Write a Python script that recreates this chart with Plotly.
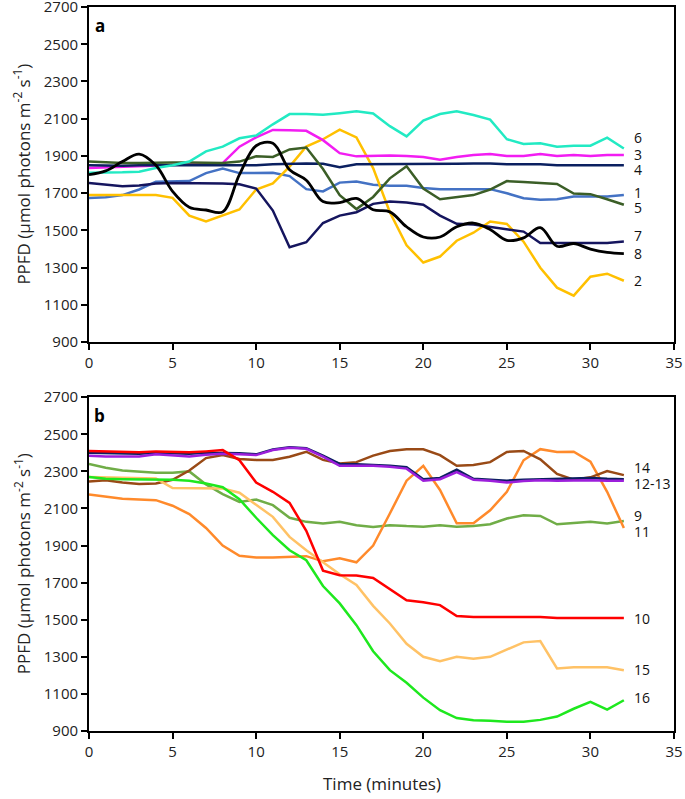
import plotly.graph_objects as go
from plotly.subplots import make_subplots

minutes = list(range(0, 33))

# Panel a series
s1 = [1675, 1678, 1690, 1720, 1762, 1762, 1765, 1808, 1832, 1808, 1808, 1810, 1792, 1722, 1710, 1757, 1763,
      1745, 1740, 1740, 1728, 1722, 1722, 1722, 1722, 1700, 1673, 1665, 1668, 1682, 1682, 1682, 1690]
s2 = [1690, 1690, 1690, 1692, 1690, 1675, 1580, 1548, 1580, 1613, 1720, 1753, 1843, 1951, 1990, 2041, 2000,
      1835, 1598, 1420, 1328, 1360, 1445, 1488, 1548, 1535, 1440, 1300, 1193, 1150, 1252, 1268, 1230]
s3 = [1835, 1838, 1840, 1842, 1845, 1850, 1855, 1858, 1862, 1950, 2000, 2040, 2038, 2035, 1985, 1915, 1898,
      1900, 1902, 1900, 1895, 1880, 1895, 1905, 1910, 1900, 1900, 1910, 1900, 1905, 1900, 1905, 1905]
s4 = [1850, 1848, 1848, 1850, 1850, 1850, 1848, 1848, 1848, 1848, 1850, 1855, 1858, 1860, 1858, 1840, 1855,
      1855, 1855, 1855, 1855, 1855, 1858, 1860, 1860, 1855, 1855, 1855, 1850, 1850, 1850, 1850, 1850]
s5 = [1870, 1865, 1862, 1862, 1865, 1865, 1865, 1862, 1862, 1870, 1898, 1895, 1935, 1945, 1830, 1690, 1615,
      1680, 1780, 1845, 1725, 1668, 1678, 1690, 1720, 1765, 1760, 1755, 1750, 1698, 1695, 1668, 1638]
s6 = [1810, 1810, 1812, 1815, 1835, 1850, 1870, 1925, 1950, 1995, 2010, 2070, 2125, 2125, 2122, 2130, 2140,
      2128, 2060, 2005, 2090, 2125, 2140, 2120, 2095, 1990, 1965, 1968, 1950, 1955, 1955, 1998, 1940]
s7 = [1755, 1748, 1738, 1742, 1752, 1755, 1755, 1755, 1752, 1748, 1725, 1607, 1410, 1437, 1540, 1580, 1598,
      1643, 1655, 1650, 1638, 1580, 1536, 1532, 1520, 1508, 1494, 1433, 1433, 1433, 1433, 1433, 1441]
s8 = [1800, 1820, 1870, 1910, 1850, 1710, 1625, 1610, 1600, 1800, 1955, 1968, 1826, 1770, 1655, 1650, 1672,
      1611, 1600, 1520, 1465, 1465, 1520, 1540, 1505, 1447, 1460, 1515, 1415, 1430, 1400, 1382, 1376]

# Panel b series
s9 = [2340, 2320, 2305, 2300, 2293, 2293, 2300, 2230, 2178, 2135, 2148, 2118, 2050, 2028, 2019, 2028, 2010,
      2000, 2010, 2005, 2002, 2010, 2002, 2005, 2015, 2046, 2064, 2060, 2015, 2022, 2028, 2019, 2032]
s10 = [2410, 2407, 2405, 2404, 2408, 2405, 2403, 2408, 2415, 2360, 2240, 2190, 2130, 1980, 1765, 1740, 1738,
       1725, 1665, 1605, 1594, 1579, 1520, 1515, 1515, 1515, 1515, 1515, 1510, 1510, 1510, 1510, 1510]
s11 = [2175, 2165, 2152, 2148, 2145, 2115, 2070, 1995, 1900, 1845, 1836, 1836, 1840, 1843, 1815, 1831, 1810,
       1900, 2073, 2250, 2330, 2200, 2020, 2020, 2090, 2190, 2360, 2420, 2405, 2406, 2352, 2190, 1995]
s12 = [2400, 2398, 2395, 2395, 2400, 2398, 2395, 2400, 2400, 2398, 2392, 2418, 2430, 2425, 2385, 2340, 2338,
       2335, 2330, 2322, 2258, 2265, 2310, 2260, 2255, 2250, 2255, 2258, 2258, 2265, 2265, 2260, 2258]
s13 = [2385, 2380, 2380, 2380, 2392, 2385, 2380, 2390, 2395, 2392, 2388, 2415, 2428, 2422, 2380, 2330, 2330,
       2330, 2325, 2315, 2250, 2258, 2296, 2255, 2250, 2240, 2248, 2252, 2250, 2252, 2252, 2250, 2250]
s14 = [2245, 2252, 2240, 2232, 2235, 2255, 2305, 2372, 2388, 2367, 2362, 2361, 2379, 2406, 2362, 2343, 2350,
       2385, 2410, 2419, 2419, 2388, 2330, 2335, 2350, 2405, 2410, 2365, 2286, 2255, 2268, 2302, 2280]
s15 = [2270, 2268, 2265, 2265, 2262, 2210, 2208, 2208, 2208, 2185, 2120, 2055, 1947, 1875, 1810, 1745, 1687,
       1575, 1480, 1370, 1300, 1277, 1300, 1290, 1300, 1340, 1378, 1385, 1237, 1244, 1244, 1244, 1228]
s16 = [2270, 2260, 2258, 2257, 2257, 2255, 2250, 2235, 2215, 2150, 2050, 1956, 1875, 1821, 1682, 1588, 1471,
       1330, 1228, 1160, 1080, 1012, 970, 958, 955, 950, 950, 960, 978, 1020, 1057, 1015, 1066]

x_ticks = [0, 5, 10, 15, 20, 25, 30, 35]
y_ticks = [900, 1100, 1300, 1500, 1700, 1900, 2100, 2300, 2500, 2700]

# (name, data, color, width, shape, label y)
panel_a = [
    ("1", s1, "#4472C4", 2.5, "linear", 1706),
    ("2", s2, "#FFC000", 2.5, "linear", 1233),
    ("3", s3, "#F21DF2", 2.5, "linear", 1910),
    ("4", s4, "#0B2060", 2.5, "linear", 1826),
    ("5", s5, "#3B5E27", 2.5, "linear", 1622),
    ("6", s6, "#22EAC3", 2.5, "linear", 1997),
    ("7", s7, "#15155E", 2.5, "linear", 1472),
    ("8", s8, "#000000", 2.8, "spline", 1375),
]
panel_b = [
    ("9", s9, "#70AD47", 2.5, "linear", 2060),
    ("11", s11, "#FF8A2B", 2.5, "linear", 1975),
    ("14", s14, "#994A16", 2.5, "linear", 2322),
    ("12", s12, "#0B2060", 2.5, "linear", None),
    ("13", s13, "#9C1FDB", 2.5, "linear", 2235),
    ("15", s15, "#FFC266", 2.5, "linear", 1231),
    ("16", s16, "#1EE81E", 2.5, "linear", 1083),
    ("10", s10, "#FF0000", 2.5, "linear", 1505),
]
label_text = {"13": "12-13"}

fig = make_subplots(rows=2, cols=1, vertical_spacing=0.076)
FONT = "Open Sans"

for row, series in ((1, panel_a), (2, panel_b)):
    xref = "x" if row == 1 else "x2"
    yref = "y" if row == 1 else "y2"
    for name, vals, color, width, shape, ly in series:
        fig.add_trace(go.Scatter(x=minutes, y=vals, mode="lines", name=name,
                                 line=dict(color=color, width=width, shape=shape,
                                           smoothing=1.0 if shape == "spline" else None),
                                 showlegend=False, hoverinfo="skip"), row=row, col=1)
        if ly is not None:
            fig.add_annotation(x=32.5, y=ly, xref=xref, yref=yref, text=label_text.get(name, name),
                               showarrow=False, xanchor="left", yanchor="middle",
                               font=dict(family=FONT, size=14, color="#111111"))

for row in (1, 2):
    fig.update_xaxes(range=[0, 35], tickvals=x_ticks, ticks="outside", ticklen=6, tickwidth=1.5,
                     tickcolor="black", showline=True, linecolor="black", linewidth=1.8, mirror=True,
                     showgrid=False, zeroline=False, automargin=False, ticklabeloverflow="allow",
                     tickfont=dict(family=FONT, size=15, color="#222222"), row=row, col=1)
    fig.update_yaxes(range=[900, 2700], tickvals=y_ticks, ticks="outside", ticklen=6, tickwidth=1.5,
                     tickcolor="black", showline=True, linecolor="black", linewidth=1.8, mirror=True,
                     showgrid=False, zeroline=False, automargin=False, ticklabeloverflow="allow",
                     tickfont=dict(family=FONT, size=15, color="#222222"), row=row, col=1)

fig.update_layout(yaxis=dict(domain=[0.537, 1.0]), yaxis2=dict(domain=[0.0, 0.461]))

ytitle = "PPFD (µmol photons m<sup>-2</sup> s<sup>-1</sup>)"
for yc in (0.7685, 0.2305):
    fig.add_annotation(x=-0.1145, y=yc, xref="paper", yref="paper", text=ytitle, textangle=-90,
                       showarrow=False, xanchor="center", yanchor="middle",
                       font=dict(family=FONT, size=17, color="#222222"))
fig.add_annotation(x=0.5, y=-0.072, xref="paper", yref="paper", text="Time (minutes)",
                   showarrow=False, xanchor="center", yanchor="middle",
                   font=dict(family=FONT, size=17, color="#222222"))
for txt, yc in (("a", 0.975), ("b", 0.436)):
    fig.add_annotation(x=0.018, y=yc, xref="paper", yref="paper", text="<b>" + txt + "</b>",
                       showarrow=False, xanchor="center", yanchor="middle",
                       font=dict(family=FONT, size=17, color="#000000"))

fig.update_layout(width=685, height=799, margin=dict(l=89, r=11, t=7, b=68, autoexpand=False),
                  plot_bgcolor="white", paper_bgcolor="white")

fig.write_html("out.html", config={"displayModeBar": False},
               post_script="document.body.style.margin='0';document.body.style.padding='0';")
